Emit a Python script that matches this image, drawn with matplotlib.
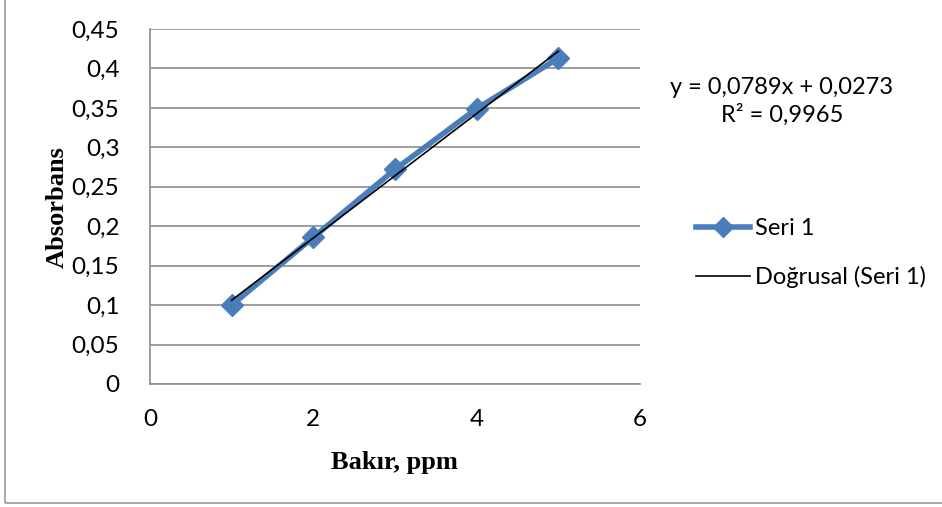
import numpy as np
import matplotlib.pyplot as plt
from matplotlib.patches import Rectangle
from matplotlib.lines import Line2D

# kalibrasyon verisi
bakir = [1, 2, 3, 4, 5]
absorbans = [0.100, 0.186, 0.272, 0.349, 0.413]
egim = 0.0789
kesim = 0.0273
r2 = 0.9965

x_ticks = [0, 2, 4, 6]
y_ticks = [0, 0.05, 0.1, 0.15, 0.2, 0.25, 0.3, 0.35, 0.4, 0.45]

mavi = '#4A7EBB'
gri = '#8C8C8C'

fig = plt.figure(figsize=(9.42, 5.07), dpi=100)
ax = fig.add_axes([150/942, 1-384/507, 490/942, 355/507])

# dis cerceve
fig.patches.append(Rectangle((5/942, 4/507), 1.0, 0.995, transform=fig.transFigure,
                             fill=False, edgecolor='#9A9A9A', lw=1.2))

ax.plot(bakir, absorbans, color=mavi, lw=4, marker='D', ms=11, zorder=3)
xs = np.array([bakir[0], bakir[-1]])
ax.plot(xs, egim*xs + kesim, color='black', lw=1.2, zorder=4)

ax.set_xlim(0, 6)
ax.set_ylim(0, 0.45)
ax.set_xticks(x_ticks)
ax.set_yticks(y_ticks)
ax.set_xticklabels([str(v) for v in x_ticks])
ax.set_yticklabels([('%g' % v).replace('.', ',') for v in y_ticks])
ax.tick_params(axis='y', length=0, labelsize=17.5, pad=22)
ax.tick_params(axis='x', length=0, labelsize=17.5, pad=18)
for lab in ax.get_xticklabels() + ax.get_yticklabels():
    lab.set_family('Lato')
ax.grid(axis='y', color=gri, lw=1.2)
ax.set_axisbelow(True)
for s in ['top', 'right']:
    ax.spines[s].set_visible(False)
for s in ['left', 'bottom']:
    ax.spines[s].set_color(gri)
    ax.spines[s].set_linewidth(1.2)

fig.text(394/942, 1-462/507, 'Bakır, ppm', ha='center', va='center',
         family='Liberation Serif', weight='bold', fontsize=19)
fig.text(57/942, 1-207/507, 'Absorbans', ha='center', va='center', rotation=90,
         family='Liberation Serif', weight='bold', fontsize=19)

fig.text(782/942, 1-87/507, 'y = 0,0789x + 0,0273', ha='center', va='center',
         family='Lato', fontsize=17)
fig.text(782/942, 1-115/507, 'R² = 0,9965', ha='center', va='center',
         family='Lato', fontsize=17)

handles = [Line2D([], [], color=mavi, lw=4, marker='D', ms=10),
           Line2D([], [], color='black', lw=1.2)]
fig.legend(handles, ['Seri 1', 'Doğrusal (Seri 1)'], loc='center left',
           bbox_to_anchor=(684/942, 1-253/507), frameon=False,
           prop={'family': 'Lato', 'size': 17}, handlelength=2.3,
           handletextpad=0.2, labelspacing=1.15, borderpad=0)

fig.savefig('out.png', dpi=100)
